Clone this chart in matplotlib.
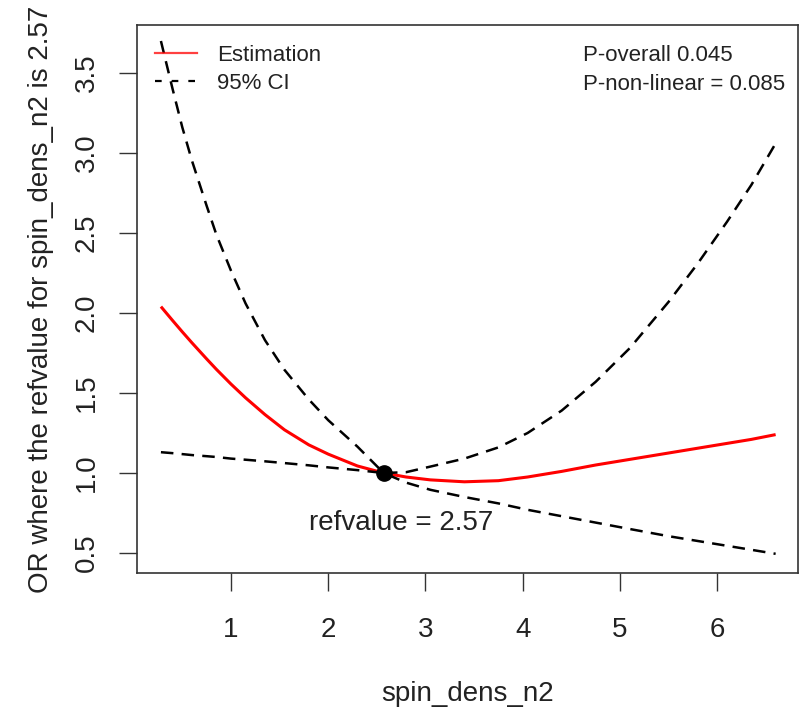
import matplotlib
matplotlib.use('Agg')
import matplotlib.pyplot as plt
from matplotlib.lines import Line2D

plt.rcParams['font.family'] = ['Liberation Sans', 'DejaVu Sans']

# values
spin_dens = [0.28, 0.4, 0.5, 0.6, 0.75, 0.85, 1.0, 1.15, 1.35, 1.55, 1.8, 2.0, 2.3, 2.57,
             2.8, 3.05, 3.4, 3.75, 4.05, 4.4, 4.75, 5.1, 5.5, 5.8, 6.1, 6.35, 6.6]
estimate = [2.04, 1.953, 1.882, 1.813, 1.713, 1.648, 1.556, 1.470, 1.365, 1.27, 1.176, 1.118, 1.044, 1.0,
            0.975, 0.957, 0.945, 0.952, 0.975, 1.01, 1.05, 1.085, 1.125, 1.155, 1.185, 1.21, 1.24]
ci_upper = [3.70, 3.40, 3.16, 2.95, 2.67, 2.49, 2.265, 2.06, 1.83, 1.645, 1.46, 1.33, 1.165, 1.0,
            1.005, 1.04, 1.09, 1.16, 1.25, 1.39, 1.57, 1.78, 2.07, 2.31, 2.57, 2.80, 3.06]
ci_lower = [1.13, 1.124, 1.118, 1.112, 1.105, 1.10, 1.09, 1.083, 1.073, 1.062, 1.048, 1.035, 1.018, 1.0,
            0.94, 0.895, 0.85, 0.81, 0.77, 0.73, 0.69, 0.65, 0.605, 0.575, 0.545, 0.52, 0.495]
ref_value = 2.57
x_ticks = [1, 2, 3, 4, 5, 6]
y_ticks = [0.5, 1.0, 1.5, 2.0, 2.5, 3.0, 3.5]
p_overall = 'P-overall 0.045'
p_nonlinear = 'P-non-linear = 0.085'

RED = '#ff0000'
DASH = (5, 3.3)

fig = plt.figure(figsize=(8.0, 7.13), dpi=100)
ax = fig.add_axes([137 / 800, 1 - 573 / 713, 661 / 800, 548 / 713])

ax.plot(spin_dens, estimate, color=RED, linewidth=2.2, solid_capstyle='butt', solid_joinstyle='round')
ax.plot(spin_dens, ci_upper, color='black', linewidth=1.8, dashes=DASH)
ax.plot(spin_dens, ci_lower, color='black', linewidth=1.8, dashes=DASH)
ax.plot([ref_value], [1.0], marker='o', markersize=11, color='black', linestyle='none')

ax.text(2.75, 0.69, 'refvalue = {0}'.format(ref_value), fontsize=20, ha='center', va='center', color='#222222')
ax.text(4.62, 3.61, p_overall, fontsize=16, ha='left', va='center', color='#222222')
ax.text(4.62, 3.425, p_nonlinear, fontsize=16, ha='left', va='center', color='#222222')

handles = [Line2D([], [], color=RED, linewidth=1.6, alpha=0.75),
           Line2D([], [], color='black', linewidth=1.6, dashes=(3, 4.5))]
ax.legend(handles, ['Estimation', '95% CI'], loc='upper left', bbox_to_anchor=(0.027, 0.963),
          frameon=False, fontsize=16, handlelength=1.9, handletextpad=0.9, labelspacing=0.3,
          borderpad=0, borderaxespad=0, labelcolor='#222222')

ax.set_xlim(0.034, 6.83)
ax.set_ylim(0.375, 3.8)
ax.set_xticks(x_ticks)
ax.set_yticks(y_ticks)
ax.set_xticklabels([str(t) for t in x_ticks])
ax.set_yticklabels(['{0:.1f}'.format(t) for t in y_ticks], rotation=90, va='center')
ax.tick_params(direction='out', length=13, width=1.0, labelsize=20, colors='#333333',
               labelcolor='#222222')
ax.tick_params(axis='x', pad=19)
ax.tick_params(axis='y', pad=14)
for spine in ax.spines.values():
    spine.set_linewidth(1.2)
    spine.set_color('#333333')

ax.set_xlabel('spin_dens_n2', fontsize=20, color='#222222', labelpad=27)
ax.set_ylabel('OR where the refvalue for spin_dens_n2 is 2.57', fontsize=20, color='#222222', labelpad=14)

fig.savefig('out.png', dpi=100)
